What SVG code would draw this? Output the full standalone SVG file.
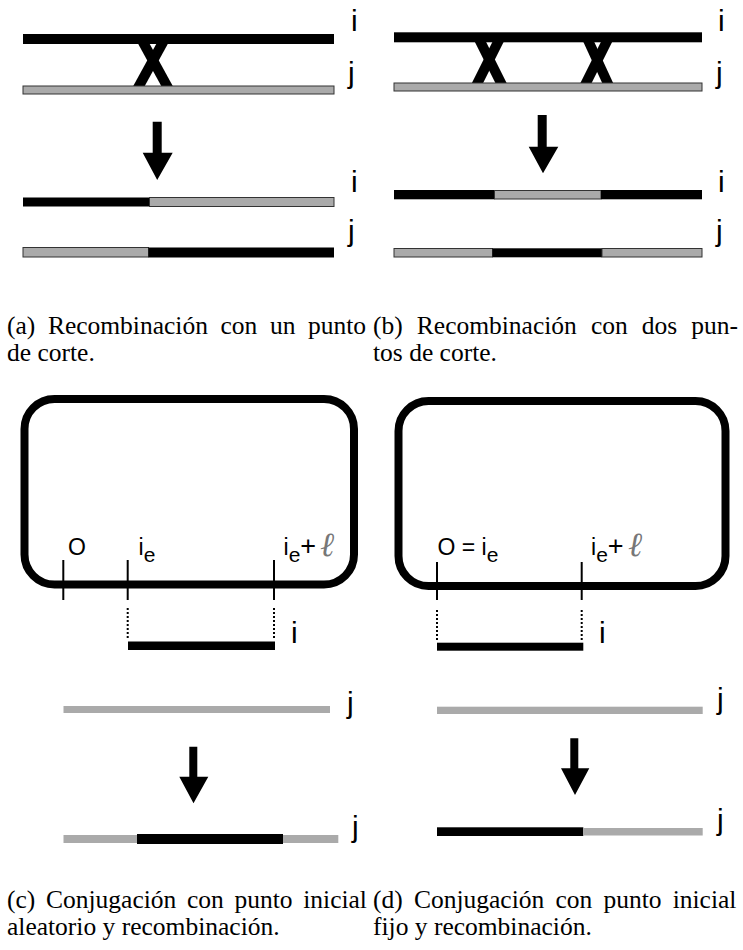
<svg xmlns="http://www.w3.org/2000/svg" width="743" height="950" viewBox="0 0 743 950">
<style>
.blk{fill:#000}
.gry{fill:#aaa}
.gryb{fill:#aaa;stroke:#333;stroke-width:1}
.x{stroke:#000;stroke-width:10;stroke-linecap:butt;fill:none}
.lbl{font-family:"Liberation Sans",Arial,sans-serif;font-size:30px;fill:#000}
.sm{font-family:"Liberation Sans",Arial,sans-serif;font-size:23px;fill:#000}
.sub{font-size:21px}
.pl{font-size:27px}
.ell{font-family:"DejaVu Serif",serif;font-style:italic;font-size:34px;fill:#777}
.box{fill:none;stroke:#000;stroke-width:8}
.tick{stroke:#000;stroke-width:2}
.dot{stroke:#000;stroke-width:2;stroke-dasharray:2 2}
.cap{font-family:"Liberation Serif","Times New Roman",serif;font-size:25.5px;fill:#000}
</style>
<rect width="743" height="950" fill="#fff"/>

<g id="panel-a">
  <line class="x" x1="141.8" y1="40" x2="169.2" y2="90"/>
  <line class="x" x1="164.2" y1="40" x2="136.8" y2="90"/>
  <rect class="blk" x="23" y="34" width="311" height="10"/>
  <rect class="gryb" x="23" y="86" width="311" height="8"/>
  <text class="lbl" x="351" y="31">i</text>
  <text class="lbl" x="348" y="83">j</text>
  <rect class="blk" x="23" y="197.5" width="126.5" height="9"/>
  <rect class="gryb" x="149.5" y="197.5" width="184.5" height="9"/>
  <rect class="gryb" x="23" y="247.5" width="125.5" height="9.5"/>
  <rect class="blk" x="148.5" y="247.5" width="185.5" height="10"/>
  <text class="lbl" x="351" y="192">i</text>
  <text class="lbl" x="348" y="241">j</text>
</g>

<g id="panel-b">
  <line class="x" x1="478.5" y1="38" x2="503" y2="87"/>
  <line class="x" x1="500" y1="38" x2="475.5" y2="87"/>
  <line class="x" x1="587" y1="38" x2="609.5" y2="87"/>
  <line class="x" x1="608.5" y1="38" x2="584" y2="87"/>
  <rect class="blk" x="394" y="32.3" width="308" height="10"/>
  <rect class="gryb" x="394" y="83" width="308" height="8"/>
  <text class="lbl" x="718" y="31">i</text>
  <text class="lbl" x="716" y="83">j</text>
  <rect class="blk" x="394" y="190" width="100.5" height="9.3"/>
  <rect class="gryb" x="494.5" y="190.5" width="106.5" height="8.5"/>
  <rect class="blk" x="601" y="190" width="101" height="9.3"/>
  <rect class="gryb" x="394" y="248.5" width="98.5" height="8.5"/>
  <rect class="blk" x="492.5" y="248.3" width="109.5" height="9"/>
  <rect class="gryb" x="602" y="248.5" width="100" height="8.5"/>
  <text class="lbl" x="718" y="192">i</text>
  <text class="lbl" x="716" y="241">j</text>
</g>

<g id="panel-c">
  <rect class="box" x="24.5" y="399" width="329.5" height="185.5" rx="30" ry="30"/>
  <line class="tick" x1="63.3" y1="560" x2="63.3" y2="600"/>
  <line class="tick" x1="127.7" y1="560" x2="127.7" y2="600"/>
  <line class="tick" x1="274" y1="560" x2="274" y2="600"/>
  <line class="dot" x1="127.7" y1="608" x2="127.7" y2="640"/>
  <line class="dot" x1="274" y1="608" x2="274" y2="640"/>
  <text class="sm" x="68" y="555">O</text>
  <text class="sm" x="138.5" y="555">i<tspan class="sub" dy="7">e</tspan></text>
  <text class="sm" x="283.5" y="555">i<tspan class="sub" dy="7">e</tspan><tspan class="pl" dy="-7">+</tspan></text>
  <text class="ell" x="320" y="556">ℓ</text>
  <rect class="blk" x="128" y="641.5" width="147" height="8.5"/>
  <text class="lbl" x="291" y="643">i</text>
  <rect class="gry" x="63.5" y="706" width="266.5" height="7"/>
  <text class="lbl" x="347" y="713">j</text>
  <rect class="gry" x="63.5" y="835" width="73.5" height="8"/>
  <rect class="blk" x="137" y="834" width="146" height="10"/>
  <rect class="gry" x="283" y="835" width="55.3" height="8"/>
  <text class="lbl" x="352" y="837">j</text>
</g>

<g id="panel-d">
  <rect class="box" x="398.5" y="401" width="327" height="185" rx="30" ry="30"/>
  <line class="tick" x1="437" y1="562" x2="437" y2="600"/>
  <line class="tick" x1="581.7" y1="562" x2="581.7" y2="600"/>
  <line class="dot" x1="437" y1="610" x2="437" y2="641"/>
  <line class="dot" x1="581.7" y1="610" x2="581.7" y2="641"/>
  <text class="sm" x="437.5" y="555">O = i<tspan class="sub" dy="7">e</tspan></text>
  <text class="sm" x="591" y="555">i<tspan class="sub" dy="7">e</tspan><tspan class="pl" dy="-7">+</tspan></text>
  <text class="ell" x="628" y="556">ℓ</text>
  <rect class="blk" x="437" y="642.7" width="146.3" height="8"/>
  <text class="lbl" x="599" y="643">i</text>
  <rect class="gry" x="437" y="706.7" width="265.7" height="7.3"/>
  <text class="lbl" x="717" y="709">j</text>
  <rect class="blk" x="437" y="827.3" width="146.3" height="8.7"/>
  <rect class="gry" x="583.3" y="828" width="119.4" height="7.5"/>
  <text class="lbl" x="717" y="830">j</text>
</g>

<g id="connectors">
  <polygon class="blk" points="152.7,121.7 161.7,121.7 161.7,152.7 172.7,152.7 157.2,180 142.7,152.7 152.7,152.7"/>
  <polygon class="blk" points="537.7,115 546.7,115 546.7,146.7 558.3,146.7 543,173.3 528.7,146.7 537.7,146.7"/>
  <polygon class="blk" points="189.3,746.7 197.3,746.7 197.3,776.7 208.3,776.7 193.5,803.3 179.3,776.7 189.3,776.7"/>
  <polygon class="blk" points="570.3,738.3 578.3,738.3 578.3,768.3 589.3,768.3 575,795 561,768.3 570.3,768.3"/>
</g>

<g id="captions">
  <text class="cap" x="7" y="334" word-spacing="6.2">(a) Recombinación con un punto</text>
  <text class="cap" x="7" y="361">de corte.</text>
  <text class="cap" x="373" y="334" word-spacing="7.7">(b) Recombinación con dos pun-</text>
  <text class="cap" x="373" y="361">tos de corte.</text>
  <text class="cap" x="7" y="908" word-spacing="4.3">(c) Conjugación con punto inicial</text>
  <text class="cap" x="7" y="935">aleatorio y recombinación.</text>
  <text class="cap" x="373" y="908" word-spacing="4.8">(d) Conjugación con punto inicial</text>
  <text class="cap" x="373" y="935">fijo y recombinación.</text>
</g>
</svg>
